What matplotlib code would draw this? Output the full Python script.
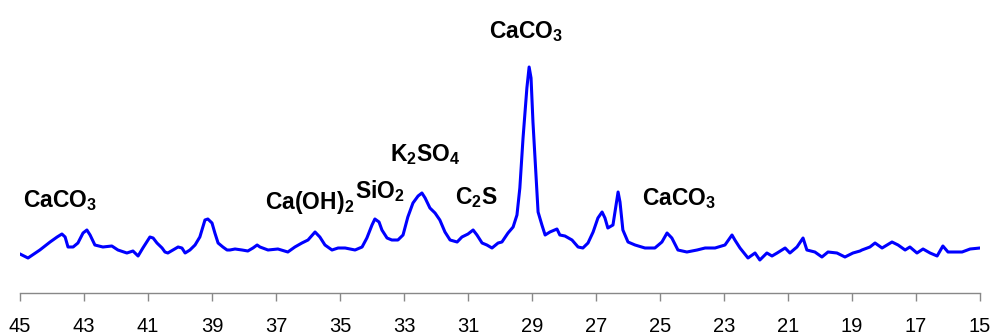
import matplotlib
matplotlib.use("Agg")
import matplotlib.pyplot as plt
from matplotlib import font_manager as fm

# ---- data (2-theta in degrees, intensity in arbitrary units) ----
two_theta = [45.00, 44.75, 44.38, 44.06, 43.84, 43.69, 43.59, 43.50, 43.34, 43.19,
             43.03, 42.91, 42.81, 42.66, 42.41, 42.13, 41.94, 41.66, 41.47, 41.31,
             41.16, 40.94, 40.84, 40.72, 40.56, 40.47, 40.38, 40.22, 40.06, 39.94,
             39.84, 39.69, 39.53, 39.38, 39.22, 39.13, 39.00, 38.91, 38.81, 38.66,
             38.53, 38.44, 38.28, 38.06, 37.88, 37.72, 37.59, 37.50,
             37.25, 36.94, 36.63, 36.41, 36.19, 36.00, 35.78, 35.63, 35.47, 35.25,
             35.06, 34.84, 34.53, 34.31, 34.16, 34.00, 33.91, 33.78,
             33.69, 33.53, 33.38, 33.19, 33.03, 32.88, 32.72, 32.56, 32.44, 32.34,
             32.19, 32.03, 31.88, 31.72, 31.56, 31.34, 31.19, 31.00, 30.84, 30.72,
             30.56, 30.41, 30.25, 30.06,
             29.94, 29.75, 29.59, 29.47, 29.38, 29.28, 29.16, 29.09, 29.03, 28.97,
             28.88, 28.81, 28.69, 28.59, 28.44, 28.22, 28.13, 27.97, 27.75, 27.56,
             27.41, 27.25, 27.09, 26.94, 26.81, 26.72, 26.63, 26.47, 26.31, 26.25,
             26.16, 26.00, 25.78, 25.47, 25.16, 24.94, 24.78, 24.63, 24.44, 24.16,
             23.84, 23.59, 23.28, 22.97, 22.75, 22.66, 22.50,
             22.25, 22.03, 21.88, 21.66, 21.50, 21.34, 21.09, 20.94, 20.72, 20.53,
             20.41, 20.16, 19.94, 19.75, 19.47, 19.22, 18.97, 18.75,
             18.69, 18.44, 18.28, 18.06, 17.75, 17.56, 17.34, 17.19, 16.97, 16.78,
             16.56, 16.34, 16.16, 16.00, 15.78, 15.56, 15.31, 15.00]
intensity = [39, 35, 43, 51, 56, 59, 56, 46, 46, 50,
             60, 63, 58, 48, 46, 47, 43, 40, 42, 37,
             45, 56, 55, 50, 45, 41, 40, 43, 46, 45,
             40, 43, 48, 56, 73, 74, 70, 60, 50, 46,
             43, 43, 44, 43, 42, 45, 48, 46,
             43, 44, 41, 46, 50, 53, 61, 56, 48, 43,
             45, 45, 43, 46, 55, 68, 74, 71,
             63, 55, 53, 53, 58, 76, 90, 97, 100, 95,
             85, 80, 73, 61, 53, 51, 56, 59, 63, 58,
             50, 48, 45, 50,
             51, 60, 66, 78, 105, 155, 205, 226, 215, 171,
             121, 81, 68, 58, 61, 64, 58, 57, 53, 46,
             45, 50, 61, 75, 81, 75, 65, 68, 101, 91,
             63, 51, 48, 45, 45, 51, 60, 55, 43, 41,
             43, 45, 45, 48, 58, 53, 45,
             35, 40, 33, 40, 37, 40, 45, 40, 46, 55,
             43, 41, 36, 41, 40, 36, 40, 42,
             43, 46, 50, 45, 51, 48, 43, 46, 40, 44,
             40, 37, 47, 41, 41, 41, 44, 45]

tick_values = [45, 43, 41, 39, 37, 35, 33, 31, 29, 27, 25, 23, 21, 19, 17, 15]

peak_labels = ["CaCO$_3$", "Ca(OH)$_2$", "SiO$_2$", "K$_2$SO$_4$", "C$_2$S",
               "CaCO$_3$", "CaCO$_3$"]
label_x = [44.91, 37.34, 34.53, 33.44, 31.41, 30.34, 25.56]
label_y = [86, 84, 95, 132, 89, 255, 88]

# ---- fonts ----
names = {f.name for f in fm.fontManager.ttflist}
fam = "Liberation Sans Narrow" if "Liberation Sans Narrow" in names else "Liberation Sans"
narrow = fam == "Liberation Sans Narrow"
plt.rcParams["font.family"] = [fam, "DejaVu Sans"]
plt.rcParams["mathtext.fontset"] = "custom"
plt.rcParams["mathtext.rm"] = fam
plt.rcParams["mathtext.bf"] = fam + ":bold"
plt.rcParams["mathtext.default"] = "bf"

lab_size = 18.5 if narrow else 16.5
tick_size = 16.5 if narrow else 14.5

fig = plt.figure(figsize=(9.96, 3.36), dpi=100)
ax = fig.add_axes([20 / 996, 43 / 336, 960 / 996, 293 / 336])
ax.plot(two_theta, intensity, color="#0000FF", linewidth=2.2)

ax.set_xlim(45, 15)
ax.set_ylim(0, 293)
ax.set_xticks(tick_values)
ax.set_xticklabels([str(v) for v in tick_values], fontsize=tick_size)
ax.set_yticks([])
for s in ["top", "right", "left"]:
    ax.spines[s].set_visible(False)
ax.spines["bottom"].set_color("#888888")
ax.spines["bottom"].set_linewidth(1.0)
ax.tick_params(axis="x", direction="out", length=5.5, width=1.0, color="#888888",
               pad=12, labelcolor="black")
ax.patch.set_alpha(0)

for t, x, y in zip(peak_labels, label_x, label_y):
    ax.text(x, y, t, ha="left", va="baseline", fontsize=lab_size,
            fontweight="bold", color="black")

fig.savefig("out.png", dpi=100)
